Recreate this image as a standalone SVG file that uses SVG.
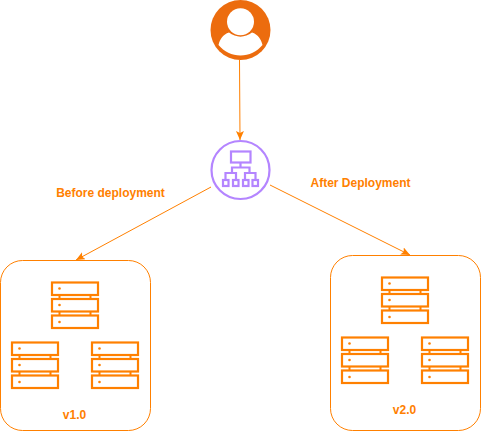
<svg xmlns="http://www.w3.org/2000/svg" xmlns:xlink="http://www.w3.org/1999/xlink" width="481" height="431" viewBox="0 0 481 431">
<style>
.c{fill:none;stroke:#ff8000;stroke-width:1}
.b{fill:#fff;stroke:#ff8000;stroke-width:1}
.r{fill:#fff;stroke:#ff8000;stroke-width:2.200}
.l{fill:none;stroke:#ff8000;stroke-width:2}
.d{fill:#ff8000}
.p{fill:none;stroke:#b485ff;stroke-width:2.200}
text{font-family:"Liberation Sans",Arial,sans-serif;font-weight:bold;font-size:12px;fill:#ff8000;text-anchor:middle}
</style>
<defs>
<marker id="a" markerUnits="userSpaceOnUse" markerWidth="11" markerHeight="10" refX="9" refY="4" orient="auto"><path d="M0 0L9 4L0 8L2 4Z" fill="#ff8000"/></marker>
<g id="s">
<rect class="r" x="1" y="1.500" width="46" height="12.500"/><rect class="r" x="1" y="18" width="46" height="12.500"/><rect class="r" x="1" y="34.500" width="46" height="12.500"/>
<path class="l" d="M8.500 14V18M39.500 14V18M8.500 30.500V34.500M39.500 30.500V34.500"/>
<circle class="d" cx="8.500" cy="7.500" r="1.300"/><circle class="d" cx="8.500" cy="24" r="1.300"/><circle class="d" cx="8.500" cy="41" r="1.300"/>
</g>
</defs>
<g id="connectors">
<path class="c" d="M239.500 60L240 140" marker-end="url(#a)"/>
<path class="c" d="M211 187L76 260" marker-end="url(#a)"/>
<path class="c" d="M270 185L410 255" marker-end="url(#a)"/>
</g>
<g id="user">
<circle cx="240.500" cy="30" r="30" fill="#ec6c0e"/>
<circle cx="240.500" cy="21.700" r="13.500" fill="#fff"/>
<path d="M218.500 45C220 39 223 34.500 229 32.500C236 38 245 38 252 32.500C258 34.500 261 39 262.500 45C257 51.500 249 55.500 240.500 55.500C232 55.500 224 51.500 218.500 45Z" fill="#fff"/>
</g>
<g id="balancer">
<circle class="p" cx="240.500" cy="170" r="29"/>
<rect class="p" x="231" y="151.500" width="19.500" height="11"/>
<path class="p" d="M240.500 162.500V167.500M232 173V167.500H249.500V173M225.500 179.500V173H236V179.500M245 179.500V173H255.500V179.500"/>
<rect class="p" x="223" y="180" width="5.500" height="6"/><rect class="p" x="233" y="180" width="5.500" height="6"/><rect class="p" x="243" y="180" width="5.500" height="6"/><rect class="p" x="252.500" y="180" width="5.500" height="6"/>
</g>
<g id="v1">
<rect class="b" x="0.500" y="260.500" width="150" height="170" rx="22"/>
<use xlink:href="#s" href="#s" x="51" y="281"/>
<use xlink:href="#s" href="#s" x="11" y="341"/>
<use xlink:href="#s" href="#s" x="91" y="341"/>
<text x="74.500" y="419">v1.0</text>
</g>
<g id="v2">
<rect class="b" x="330.500" y="255.500" width="150" height="175" rx="22"/>
<use xlink:href="#s" href="#s" x="381" y="276"/>
<use xlink:href="#s" href="#s" x="341" y="336"/>
<use xlink:href="#s" href="#s" x="421" y="336"/>
<text x="404.500" y="414">v2.0</text>
</g>
<text x="110.500" y="197">Before deployment</text>
<text x="360.500" y="187">After Deployment</text>
</svg>
